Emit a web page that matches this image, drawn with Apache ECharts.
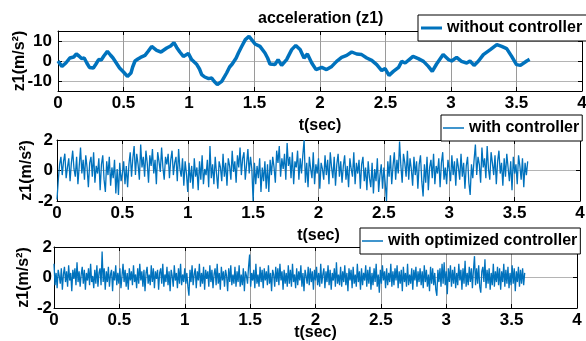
<!DOCTYPE html>
<html>
<head>
<meta charset="utf-8">
<script src="https://cdn.jsdelivr.net/npm/echarts@6.0.0/dist/echarts.min.js"></script>
<style>
  html, body { margin: 0; padding: 0; background: #fff; }
  #chart { width: 586px; height: 341px; }
</style>
</head>
<body>
<div id="chart"></div>
<script>
// top plot: acceleration without controller, traced points (t, z1)
const topT = [0, 0.03, 0.06, 0.09, 0.12, 0.14, 0.16, 0.18, 0.2, 0.22, 0.24, 0.27, 0.29, 0.31, 0.33, 0.35, 0.377, 0.4, 0.42, 0.45,
  0.47, 0.5, 0.53, 0.557, 0.57, 0.588, 0.61, 0.63, 0.664, 0.69, 0.715, 0.753, 0.786, 0.83, 0.86, 0.885, 0.906, 0.93, 0.957, 0.995,
  1.02, 1.06, 1.08, 1.097, 1.12, 1.15, 1.173, 1.19, 1.216, 1.25, 1.287, 1.31, 1.33, 1.36, 1.377, 1.4, 1.43, 1.458, 1.478, 1.504,
  1.542, 1.58, 1.6, 1.618, 1.656, 1.68, 1.707, 1.745, 1.784, 1.815, 1.848, 1.878, 1.904, 1.937, 1.97, 2.013, 2.05, 2.09, 2.127, 2.165,
  2.204, 2.242, 2.28, 2.318, 2.357, 2.395, 2.433, 2.471, 2.497, 2.527, 2.56, 2.6, 2.624, 2.65, 2.69, 2.71, 2.75, 2.79, 2.827, 2.857,
  2.89, 2.94, 2.98, 3.005, 3.043, 3.08, 3.12, 3.145, 3.176, 3.21, 3.247, 3.3, 3.35, 3.387, 3.425, 3.463, 3.5, 3.53, 3.578, 3.6];
const topZ = [0, -2.7, -1, 1.5, 2, 3.5, 2.5, 1.2, 1.5, -1, -3.2, -3.5, -1.5, 0.7, 0.5, 2.5, 4.8, 3, 1.5, -1.5,
  -3.5, -5.5, -7.7, -6, -3, 0, 1, 1.8, 2.8, 5, 7.3, 5.3, 4.5, 6.5, 7.5, 9.2, 6.8, 4.5, 2.3, 3.8,
  0.7, -1.8, -4, -6.8, -8, -8.8, -8.5, -10, -11.8, -10.2, -6, -3, -1.5, 1.5, 4, 7, 10.7, 12.3, 10.7, 8.5,
  7.3, 4, 1.5, -1.5, -1.8, 0.7, -2.2, 0.7, 5.7, 7.8, 5.7, 1.5, 3.5, -1, -4.3, -3.2, -4.3, -2.7, -0.2, 1.8,
  2.8, 4.5, 3.5, 3.2, 1.5, 0.3, -1.8, -4.8, -3.8, -7.2, -5.2, -3.2, -0.2, -1, 1.2, 2.3, 1.2, -0.2, -2.7, -5.2,
  -1.5, 3.2, 0.7, 0, 1.8, -0.2, -1, 0, -2.2, 0, 3.2, 5.7, 8.2, 7.3, 6.2, 2.3, -1.8, -2.2, 0, 0.8];

// middle plot: with controller, one sample every 0.01 s
const midDt = 0.01;
const midZ = [
  -1.9, -0.6, 0.4, 0.9, -0.3, 0.6, 1.1, -0.5, 0.2, 0.8, -0.7, 0.5, 1.3, 0.1, -0.4, 0.9, -0.9, 0.3, 1.5, -0.2,
  0.7, -0.6, 1.0, 0.2, -1.1, 0.5, 0.9, -0.4, 1.2, -0.8, 0.3, -0.2, 0.8, -1.3, 0.4, 1.0, -0.6, -1.4, 0.6, -0.3,
  0.9, -1.0, 0.2, -0.5, 0.7, -1.5, 0.1, -1.6, 0.5, -0.7, -0.2, 0.6, -0.9, 0.3, -1.1, 0.4, 1.2, -0.4, 0.8, 1.6,
  -0.3, 1.1, 0.4, -0.6, 1.7, 0.2, 0.9, -0.4, 1.3, 0.5, -0.8, 1.0, 0.3, 1.4, -0.2, 0.7, -0.9, 1.2, 0.6, -0.1,
  1.5, 0.2, -0.6, 0.9, 0.4, 1.1, -0.5, 0.7, 1.3, -0.3, 0.5, 0.9, -0.7, 1.4, 0.1, -0.4, 0.8, -1.0, 0.6, -0.2,
  -1.4, 0.5, -0.8, 0.3, -1.2, 0.8, -0.4, 0.2, -1.3, 0.6, -0.6, 1.0, -0.9, 0.1, -0.3, 0.7, -1.1, 1.6, -0.5, 0.4,
  -0.9, 0.9, -0.2, -1.2, 0.6, 0.2, -0.7, 1.1, -0.4, 0.5, -1.0, 0.8, 0.3, -0.6, 1.3, -0.1, 0.6, -0.8, 1.0, 0.2,
  1.5, -0.3, 0.8, 1.2, -0.6, 0.4, 1.4, -0.2, 0.9, 0.1, -2.0, 0.5, -0.9, 0.3, -0.5, 0.8, -1.4, 0.2, -0.7, 0.6,
  -1.2, 0.4, -1.4, 0.7, -0.3, 0.9, 0.2, -0.8, 1.3, 0.5, 1.6, -0.4, 0.8, 0.1, 1.1, -0.6, 1.8, 0.3, 0.9, -0.5,
  1.2, -0.9, 0.6, 0.2, 1.3, -0.6, 0.8, -0.2, 1.0, 2.0, -0.8, 0.5, -1.1, 0.9, 0.1, -0.5, 1.2, -0.9, 0.4, -0.2,
  0.8, -1.2, 0.5, 0.1, -0.6, 1.0, -0.3, 0.7, -0.9, 1.2, 0.2, -0.5, 0.9, -1.0, 0.4, 1.1, -0.4, 0.6, -0.8, 0.3,
  1.0, -0.6, 0.3, -1.1, 0.8, 0.1, -0.4, 1.2, -0.9, 0.5, -0.2, 0.7, -1.2, 0.4, 0.9, -0.7, 0.2, -1.3, 0.6, -0.5,
  -1.1, 0.5, -1.5, 0.1, -0.7, 0.8, -1.4, -0.3, 0.4, -1.2, 0.2, -0.8, -2.0, 0.6, -0.4, 1.0, -0.9, 0.3, 1.2, -0.6,
  0.7, -0.2, 1.9, 0.3, -0.8, 1.1, 0.5, -0.4, 1.3, -0.6, 0.8, 0.1, -1.0, 0.9, -0.3, 0.6, -1.2, 0.4, 1.0, -0.7,
  -1.7, 0.4, -0.8, 0.9, -1.3, 0.2, 0.7, -0.5, 1.1, -0.9, 0.3, -0.2, 0.8, -1.1, 0.5, 1.2, -0.6, 0.2, -0.9, 0.7,
  0.1, -0.7, 1.0, -0.3, 0.6, -1.0, 0.8, 0.2, -0.6, 1.1, -0.4, 0.5, -1.2, 0.3, 0.9, -0.8, -1.6, 0.4, -0.5, 0.7,
  1.7, -0.3, 0.9, 0.4, -0.8, 1.5, 0.2, 0.8, -0.5, 1.6, 0.1, -0.6, 1.2, 0.5, -0.3, 1.0, -0.9, 0.6, 1.3, -0.2,
  0.5, -1.0, 0.8, -0.4, 1.1, 0.2, -0.7, 0.6, -1.3, 0.9, -0.2, 0.4, -0.9, 1.0, 0.3, -0.6, 0.8, -1.1, 0.5, -0.3,
  0.6];

// bottom plot: with optimized controller, one sample every 0.008 s
const lowDt = 0.008;
const lowZ = [
  0.9, -0.5, 0.3, -0.7, 0.5, 0.1, -0.4, 0.6, -0.8, 0.2, 0.7, -0.3, 0.4, -0.6, 0.8, -0.2, 0.3, -0.9, 0.5, -0.1, 0.6, -0.5, 1.0, -0.3, 0.4,
  -0.6, 0.2, 0.7, -0.4, 0.5, -0.8, 0.3, -0.2, 0.6, -0.5, 0.9, -0.3, 0.1, -0.7, 0.5, -0.4, 0.8, -0.6, 0.3, 0.6, -0.5, 1.7, -0.3, 0.6, -0.8,
  0.4, -0.3, 0.7, -0.6, 0.2, 0.5, -0.9, 0.4, -0.2, 0.8, -0.5, 0.3, -0.4, 0.6, -0.7, 0.1, 0.9, -0.3, 0.5, -0.6, 0.3, -0.8, 0.6, -0.2, 0.4,
  -0.5, 0.8, -0.3, 0.2, -0.7, 0.6, -0.4, 0.9, -0.2, 0.4, -0.6, 0.5, -0.9, 0.3, 0.7, -0.4, 0.2, -0.5, 0.8, -0.3, 0.6, -0.7, 0.4, -0.1, 0.5,
  -0.8, 0.3, 0.6, -0.4, 0.9, -0.6, 0.2, -0.3, 0.7, -0.5, 0.4, -0.9, 0.5, 0.1, -0.6, 0.8, -0.2, 0.3, -0.7, 0.6, -0.4, 0.9, -0.5, 0.2, -0.3,
  0.6, -0.4, 0.3, -0.6, -1.2, 0.5, -0.3, 0.8, -0.5, 0.2, 0.6, -0.7, 0.4, -0.2, 0.9, -0.6, 0.3, -0.4, 0.7, -0.8, 0.5, -0.1, 0.4, -0.6, 0.8,
  -0.3, 0.5, -0.7, 0.2, 0.6, -0.5, 0.9, -0.4, 0.3, -0.8, 0.7, -0.2, 0.4, -0.6, 0.5, 0.1, -0.9, 0.6, -0.3, 0.8, -0.5, 0.2, -0.4, 0.7, -0.6,
  0.4, -0.3, 0.8, -0.6, 0.2, -0.5, 0.6, -0.9, 0.4, 0.1, -0.4, 0.7, 1.5, -0.6, 0.3, -0.2, 0.5, -0.7, 0.9, -0.4, 0.2, -0.6, 0.7, -0.3, 0.5,
  -0.7, 0.6, -0.2, 0.4, -0.5, 0.8, -0.4, 0.3, -0.9, 0.5, 0.2, -0.6, 0.7, -0.3, 0.6, -0.5, 0.9, -0.2, 0.4, -0.8, 0.5, -0.4, 0.3, -0.6, 0.8,
  -0.4, 0.5, -0.6, 0.9, -0.3, 0.2, -0.7, 0.6, -0.5, 0.4, -0.2, 0.8, -0.6, 0.3, -0.9, 0.5, 0.1, -0.4, 0.7, -0.5, 0.6, -0.3, 0.4, -0.8, 0.5,
  -0.2, 0.7, -0.5, 0.3, -0.6, 0.9, -0.4, 0.2, 0.6, -0.7, 0.4, -0.3, 0.8, -0.5, 0.5, -0.8, 0.3, -0.2, 0.6, -0.6, 1.0, -0.4, 0.2, -0.5, 0.7,
  -0.6, 0.4, -0.3, 0.8, -0.5, 0.3, -0.9, 0.6, -0.2, 0.5, -0.7, 0.7, -0.4, 0.2, -0.6, 0.9, -0.3, 0.4, -0.8, 0.6, -0.5, 0.3, -0.2, 0.8, -0.6,
  0.5, -0.4, 0.7, -0.8, 0.3, -0.5, 0.6, -0.3, 0.9, -0.6, 0.2, -1.0, 0.5, -0.4, 0.8, -0.2, 0.4, -0.7, 0.6, -0.5, 0.3, -0.3, 0.9, -0.6, 0.4,
  -0.5, 0.6, -0.2, 0.8, -0.7, 0.4, -0.4, 0.5, -0.9, 0.7, -0.3, 0.3, -0.6, 0.9, -0.5, 0.2, -0.4, 0.6, -0.8, 0.5, -0.2, 0.7, -0.6, 0.4, -0.3,
  0.6, -0.5, 0.4, -0.7, 0.8, -0.3, 0.5, -0.6, 0.2, -0.9, 0.7, -0.4, 0.6, -0.5, 0.3, -0.8, -1.2, 0.5, -0.3, 0.6, -0.6, 0.9, -0.4, 1.0, -0.5,
  0.4, -1.1, 0.6, -0.3, 0.8, -0.6, 0.5, -0.4, 0.7, -0.7, 0.3, -0.5, 0.9, -0.2, 0.5, -0.8, 0.6, -0.4, 1.1, -0.6, 0.3, -0.5, 0.7, -0.3, 0.6,
  -0.7, 0.5, 1.4, -0.5, 0.6, -0.4, 0.8, -0.6, -1.0, 0.4, 0.7, -0.3, 1.2, -0.7, 0.5, -0.4, 0.6, -0.8, 0.3, -0.5, 0.9, -0.6, 0.4, -0.3, 0.7,
  -0.5, 0.6, -0.8, 0.4, -0.3, 0.9, -0.6, 0.5, -0.4, 0.7, -0.7, 0.3, -0.5, 0.8, -0.4, 0.6, -0.9, 0.4, -0.3, 0.7, -0.6, 0.5, -0.4, 0.6, -0.5,
  0.3];

const xTicks = [0, 4, 0.5];          // min, max, step of time axis
const topYTicks = [-10, 0, 10];
const names = ["without controller", "with controller", "with optimized controller"];

const FONT = "'Liberation Sans', Arial, sans-serif";
const BLUE = "#0072BD";

const chart = echarts.init(document.getElementById("chart"));

const grids = [
  { left: 58, right: 4, top: 31, height: 60, outerBoundsMode: "none", containLabel: false },
  { left: 57, right: 6, top: 140, height: 61, outerBoundsMode: "none", containLabel: false },
  { left: 54, right: 9, top: 247, height: 61, outerBoundsMode: "none", containLabel: false },
];

const labelStyle = { color: "#000", fontSize: 17, fontWeight: "bold", fontFamily: FONT };

function bottomX(i, gap) {
  return {
    type: "value", gridIndex: i, min: xTicks[0], max: xTicks[1], interval: xTicks[2],
    name: "t(sec)", nameLocation: "middle", nameGap: gap, nameMoveOverlap: false,
    nameTextStyle: { color: "#000", fontSize: 16, fontWeight: "bold", fontFamily: FONT },
    axisLine: { show: true, onZero: false, lineStyle: { color: "#000", width: 1 } },
    axisTick: { show: true, inside: true, length: 4, lineStyle: { color: "#000" } },
    axisLabel: Object.assign({ margin: 4 }, labelStyle),
    splitLine: { show: true, lineStyle: { color: "#9a9a9a", width: 1 } },
  };
}
function topX(i) {
  return {
    type: "value", gridIndex: i, position: "top", min: xTicks[0], max: xTicks[1], interval: xTicks[2],
    axisLine: { show: true, onZero: false, lineStyle: { color: "#000", width: 1 } },
    axisTick: { show: true, inside: true, length: 4, lineStyle: { color: "#000" } },
    axisLabel: { show: false }, splitLine: { show: false },
  };
}
function leftY(i, min, max, interval, gap, margin) {
  const ax = {
    type: "value", gridIndex: i, min: min, max: max,
    name: "z1(m/s²)", nameLocation: "middle", nameGap: gap, nameMoveOverlap: false,
    nameTextStyle: { color: "#000", fontSize: 16, fontWeight: "bold", fontFamily: FONT },
    axisLine: { show: true, onZero: false, lineStyle: { color: "#000", width: 1 } },
    axisTick: { show: true, inside: true, length: 4, lineStyle: { color: "#000" } },
    axisLabel: Object.assign({ margin: margin }, labelStyle),
    splitLine: { show: true, lineStyle: { color: "#b4b4b4", width: 1 } },
  };
  if (interval) ax.interval = interval;
  return ax;
}
function rightY(i, min, max, interval) {
  const ax = {
    type: "value", gridIndex: i, position: "right", min: min, max: max,
    axisLine: { show: true, onZero: false, lineStyle: { color: "#000", width: 1 } },
    axisTick: { show: true, inside: true, length: 4, lineStyle: { color: "#000" } },
    axisLabel: { show: false }, splitLine: { show: false },
  };
  if (interval) ax.interval = interval;
  return ax;
}

const yTop = leftY(0, -15, 15, null, 30, 6);
yTop.axisLabel.customValues = topYTicks;
yTop.axisTick.customValues = topYTicks;
const yTopR = rightY(0, -15, 15, null);
yTopR.axisTick.customValues = topYTicks;

function legend(name, left, top, pad, lineH) {
  return {
    data: [name], left: left, top: top, orient: "horizontal",
    backgroundColor: "#fff", borderColor: "#000", borderWidth: 1, borderRadius: 0,
    padding: pad, icon: "rect", itemWidth: 21, itemHeight: lineH, selectedMode: false,
    textStyle: { color: "#000", fontSize: 16, fontWeight: "bold", fontFamily: FONT },
  };
}

const option = {
  animation: false,
  backgroundColor: "#fff",
  title: {
    text: "acceleration (z1)", left: 253, top: 6,
    textStyle: { color: "#000", fontSize: 16, fontWeight: "bold", fontFamily: FONT },
  },
  legend: [
    legend(names[0], 418, 15, [5, 8, 5, 3], 3),
    legend(names[1], 441, 115, [5, 3, 5, 2], 1.5),
    legend(names[2], 360, 228, [5, 3, 5, 2], 1.5),
  ],
  grid: grids,
  xAxis: [bottomX(0, 27), bottomX(1, 27), bottomX(2, 17), topX(0), topX(1), topX(2)],
  yAxis: [
    yTop,
    leftY(1, -2, 2, 2, 22, 4),
    leftY(2, -2, 2, 2, 22, 2),
    yTopR,
    rightY(1, -2, 2, 2),
    rightY(2, -2, 2, 2),
  ],
  series: [
    {
      name: names[0], type: "line", xAxisIndex: 0, yAxisIndex: 0,
      data: topT.map((t, i) => [t, topZ[i]]),
      symbol: "none", showSymbol: false,
      lineStyle: { color: BLUE, width: 3.5 }, itemStyle: { color: BLUE },
    },
    {
      name: names[1], type: "line", xAxisIndex: 1, yAxisIndex: 1,
      data: midZ.map((v, i) => [+(i * midDt).toFixed(3), v]),
      symbol: "none", showSymbol: false,
      lineStyle: { color: BLUE, width: 1.3 }, itemStyle: { color: BLUE },
    },
    {
      name: names[2], type: "line", xAxisIndex: 2, yAxisIndex: 2,
      data: lowZ.map((v, i) => [+(i * lowDt).toFixed(3), v]),
      symbol: "none", showSymbol: false,
      lineStyle: { color: BLUE, width: 1.3 }, itemStyle: { color: BLUE },
    },
  ],
};

chart.setOption(option);
</script>
</body>
</html>
